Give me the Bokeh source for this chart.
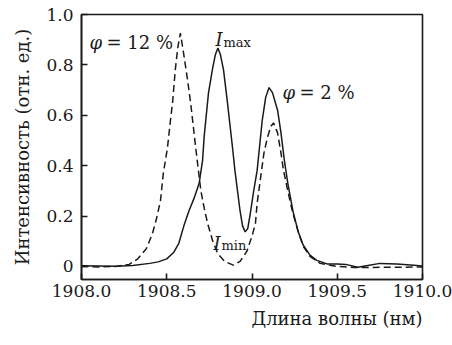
from bokeh.plotting import figure
from bokeh.models import FixedTicker, Label, Range1d, Title
from bokeh.embed import file_html
from bokeh.resources import INLINE

# ---- data ----
wl_solid = [1908.00, 1908.10, 1908.20, 1908.30, 1908.40, 1908.45, 1908.50, 1908.54,
            1908.57, 1908.60, 1908.63, 1908.66, 1908.69, 1908.71, 1908.72, 1908.745,
            1908.77, 1908.785, 1908.80, 1908.815, 1908.833, 1908.856, 1908.886,
            1908.90, 1908.915, 1908.93, 1908.945, 1908.96, 1908.975, 1908.99,
            1909.01, 1909.03, 1909.045, 1909.06, 1909.08, 1909.10, 1909.12,
            1909.15, 1909.17, 1909.19, 1909.21, 1909.24, 1909.27, 1909.30,
            1909.34, 1909.38, 1909.44, 1909.50, 1909.55, 1909.62, 1909.68,
            1909.75, 1909.85, 1909.95, 1910.00]
int_solid = [0.003, 0.002, 0.001, 0.004, 0.012, 0.018, 0.030, 0.055,
             0.09, 0.16, 0.22, 0.27, 0.33, 0.42, 0.52, 0.69,
             0.79, 0.84, 0.867, 0.84, 0.78, 0.65, 0.47,
             0.38, 0.30, 0.22, 0.16, 0.137, 0.15, 0.21,
             0.30, 0.38, 0.48, 0.58, 0.67, 0.71, 0.69,
             0.62, 0.53, 0.42, 0.33, 0.22, 0.14, 0.085,
             0.045, 0.024, 0.010, 0.010, 0.008, -0.003, 0.004,
             0.012, 0.010, 0.005, 0.002]

wl_dash = [1908.00, 1908.10, 1908.20, 1908.28, 1908.33, 1908.38, 1908.416, 1908.44,
           1908.463, 1908.48, 1908.504, 1908.52, 1908.534, 1908.55, 1908.565,
           1908.58, 1908.598, 1908.62, 1908.64, 1908.67, 1908.70, 1908.72,
           1908.74, 1908.77, 1908.80, 1908.84, 1908.89, 1908.93, 1908.97,
           1909.00, 1909.02, 1909.03, 1909.05, 1909.07, 1909.09, 1909.11,
           1909.126, 1909.15, 1909.17, 1909.185, 1909.21, 1909.24, 1909.27,
           1909.30, 1909.34, 1909.40, 1909.50, 1909.60, 1909.70, 1909.80,
           1909.90, 1910.00]
int_dash = [0.0, -0.002, 0.0, 0.008, 0.03, 0.07, 0.13, 0.19,
            0.26, 0.37, 0.47, 0.57, 0.65, 0.78, 0.87,
            0.926, 0.85, 0.75, 0.65, 0.47, 0.30, 0.23,
            0.17, 0.10, 0.05, 0.02, 0.005, 0.02, 0.06,
            0.12, 0.17, 0.25, 0.35, 0.45, 0.51, 0.555,
            0.57, 0.53, 0.45, 0.38, 0.30, 0.21, 0.14,
            0.08, 0.04, 0.012, 0.0, -0.004, -0.004, -0.003,
            -0.003, -0.002]

x_ticks = [1908.0, 1908.5, 1909.0, 1909.5, 1910.0]
x_tick_labels = ["1908.0", "1908.5", "1909.0", "1909.5", "1910.0"]
y_ticks = [0.0, 0.2, 0.4, 0.6, 0.8, 1.0]
y_tick_labels = ["0", "0.2", "0.4", "0.6", "0.8", "1.0"]

FONT = "DejaVu Serif"
INK = "#1a1a1a"

p = figure(width=452, height=345, output_backend="svg", toolbar_location=None,
           x_range=Range1d(1908.0, 1910.0), y_range=Range1d(-0.052, 1.0),
           min_border_left=81, min_border_right=30, min_border_top=14,
           min_border_bottom=0)
p.frame_width = 341
p.frame_height = 265
p.background_fill_color = "white"
p.border_fill_color = "white"
p.grid.visible = False
p.outline_line_color = INK
p.outline_line_width = 1.6

for ax in (p.xaxis[0], p.yaxis[0]):
    ax.axis_line_color = INK
    ax.axis_line_width = 1.6
    ax.major_tick_in = 6
    ax.major_tick_out = 0
    ax.major_tick_line_color = INK
    ax.major_tick_line_width = 1.6
    ax.minor_tick_line_color = None
    ax.major_label_text_font = FONT
    ax.major_label_text_font_size = "17px"
    ax.major_label_text_color = INK

p.xaxis.ticker = FixedTicker(ticks=x_ticks)
p.xaxis.major_label_overrides = {t: s for t, s in zip(x_ticks, x_tick_labels)}
p.xaxis.major_label_standoff = 5
p.yaxis.ticker = FixedTicker(ticks=y_ticks)
p.yaxis.major_label_overrides = {t: s for t, s in zip(y_ticks, y_tick_labels)}
p.yaxis.major_label_standoff = 8

p.yaxis.axis_label = "Интенсивность (отн. ед.)"
p.yaxis.axis_label_text_font = FONT
p.yaxis.axis_label_text_font_size = "18px"
p.yaxis.axis_label_text_font_style = "normal"
p.yaxis.axis_label_text_color = INK
p.yaxis.axis_label_standoff = 10

xt = Title(text="Длина волны (нм)", align="right", text_font=FONT,
           text_font_size="18px", text_font_style="normal", text_color=INK,
           standoff=13, offset=0)
p.add_layout(xt, "below")
p.min_border_bottom = 66

p.line(wl_solid, int_solid, line_color=INK, line_width=1.5)
p.line(wl_dash, int_dash, line_color=INK, line_width=1.5, line_dash="7 4")

def lab(x, y, text, size="18px", style="normal", align="left", baseline="alphabetic", xoff=0):
    p.add_layout(Label(x=x, y=y, text=text, text_font=FONT, text_font_size=size,
                       text_font_style=style, text_color=INK, text_align=align,
                       text_baseline=baseline, x_offset=xoff))

# φ = 12 %
lab(1908.047, 0.89, "φ", style="italic")
lab(1908.047, 0.89, "= 12 %", xoff=17)
# I max
lab(1908.786, 0.899, "I", style="italic")
lab(1908.786, 0.887, "max", size="13px", xoff=8)
# φ = 2 %
lab(1909.179, 0.692, "φ", style="italic")
lab(1909.179, 0.692, "= 2 %", xoff=17)
# I min
lab(1908.774, 0.091, "I", style="italic")
lab(1908.774, 0.083, "min", size="13px", xoff=8)

open("out.html", "w").write(file_html(p, INLINE))
